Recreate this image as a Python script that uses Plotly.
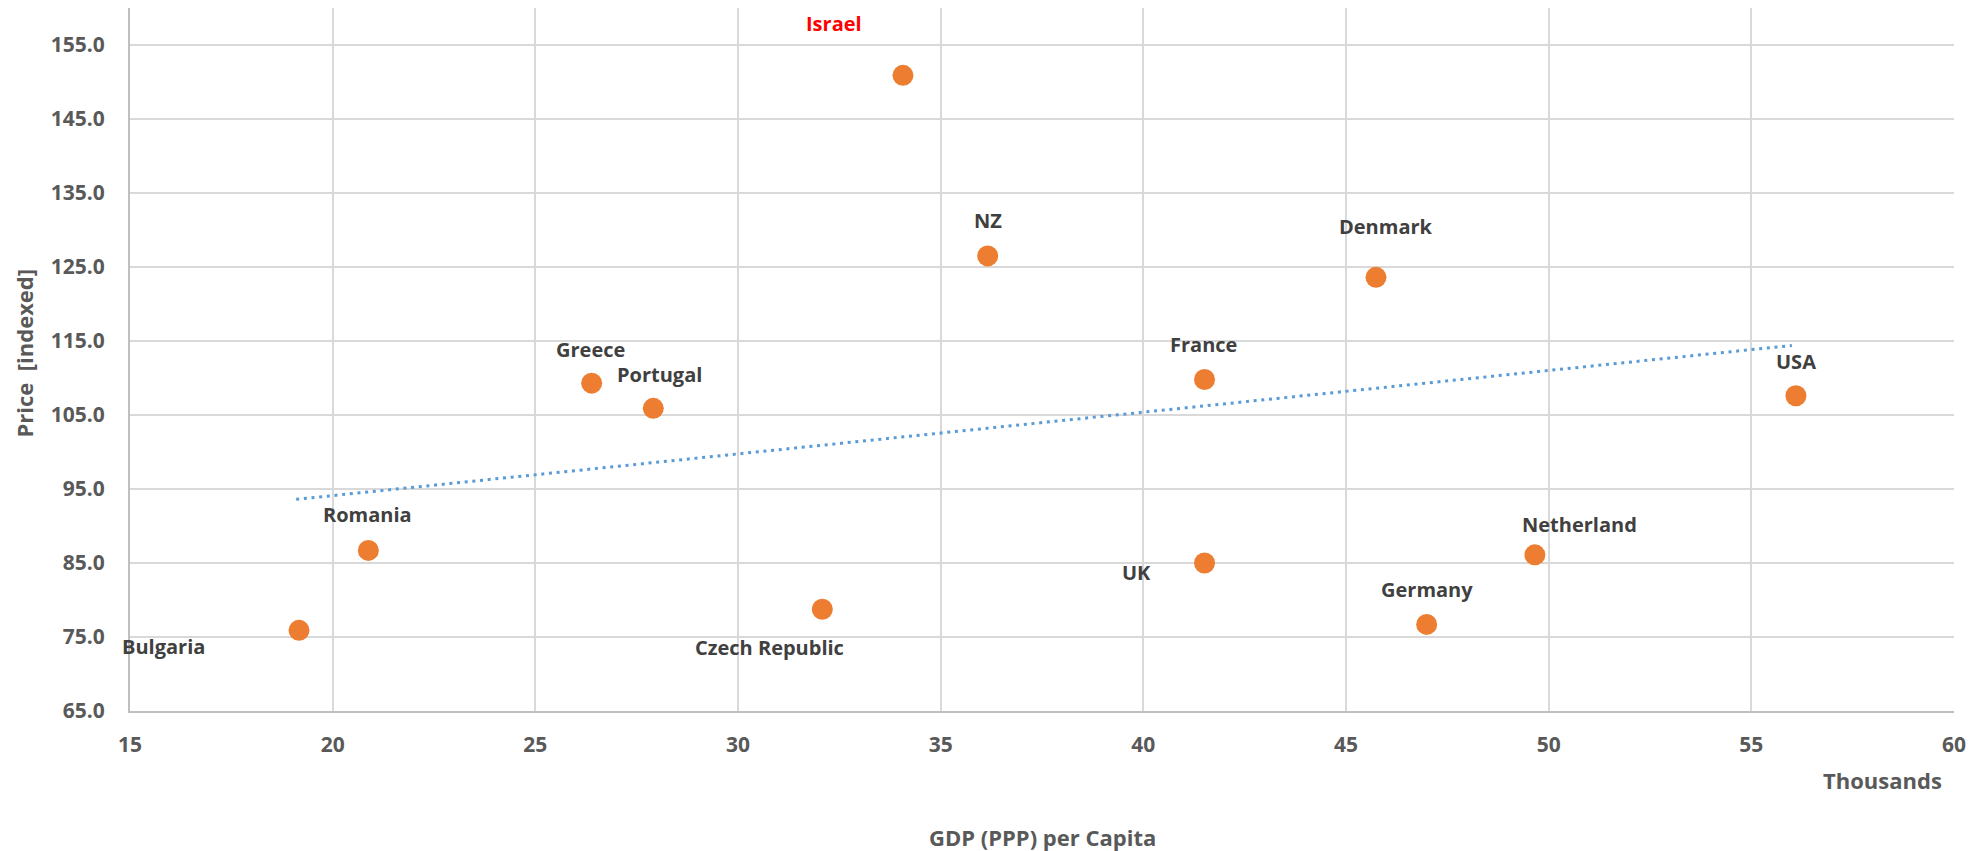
import plotly.graph_objects as go

# ---- data ----
countries = ["Israel", "NZ", "Denmark", "Greece", "Portugal", "France", "USA",
             "Romania", "Netherland", "UK", "Czech Republic", "Germany", "Bulgaria"]
gdp_thousands = [34.07, 36.16, 45.74, 26.39, 27.91, 41.51, 56.10,
                 20.88, 49.66, 41.51, 32.08, 46.99, 19.17]
price_index = [150.9, 126.5, 123.6, 109.3, 105.9, 109.8, 107.6,
               86.7, 86.1, 85.0, 78.75, 76.7, 75.9]
trend_x = [19.1, 56.0]
trend_y = [93.6, 114.4]
x_ticks = [15, 20, 25, 30, 35, 40, 45, 50, 55, 60]
y_ticks = [65, 75, 85, 95, 105, 115, 125, 135, 145, 155]

# label offsets in pixels (style)
label_offsets = {
    "Israel": (-69, 52), "NZ": (0, 35), "Denmark": (10, 51), "Greece": (-1, 34),
    "Portugal": (6, 34), "France": (-1, 35), "USA": (0, 34), "Romania": (-1, 36),
    "Netherland": (45, 30), "UK": (-68, -9), "Czech Republic": (-53, -38),
    "Germany": (0, 35), "Bulgaria": (-136, -16),
}

FONT = "Open Sans"
GRAY = "#595959"
LABEL = "#404040"

fig = go.Figure()

fig.add_trace(go.Scatter(
    x=trend_x, y=trend_y, mode="lines",
    line=dict(color="#5B9BD5", width=3, dash="3px,4.7px"),
    hoverinfo="skip", showlegend=False,
))

fig.add_trace(go.Scatter(
    x=gdp_thousands, y=price_index, mode="markers",
    marker=dict(color="#ED7D31", size=21, line=dict(width=0)),
    text=countries, showlegend=False,
))

for name, xv, yv in zip(countries, gdp_thousands, price_index):
    dx, dy = label_offsets[name]
    fig.add_annotation(
        x=xv, y=yv, xref="x", yref="y", text=name, showarrow=False,
        xshift=dx, yshift=dy,
        font=dict(family=FONT, size=20, weight="bold",
                  color="#FF0000" if name == "Israel" else LABEL),
    )

# axis titles
fig.add_annotation(
    xref="paper", yref="paper", x=0.5, y=0, xanchor="center", yanchor="middle",
    yshift=-126, text="GDP (PPP) per Capita", showarrow=False,
    font=dict(family=FONT, size=22, weight="bold", color=GRAY),
)
fig.add_annotation(
    xref="paper", yref="paper", x=1.0, y=0, xanchor="right", yanchor="middle",
    xshift=-10, yshift=-69, text="Thousands", showarrow=False,
    font=dict(family=FONT, size=22, weight="bold", color=GRAY),
)
fig.add_annotation(
    xref="paper", yref="paper", x=0, y=0.5, xanchor="center", yanchor="middle",
    xshift=-107, yshift=6, textangle=-90, text="Price  [indexed]", showarrow=False,
    font=dict(family=FONT, size=22, weight="bold", color=GRAY),
)

fig.update_xaxes(
    range=[15, 60], tickvals=x_ticks, showgrid=True, gridcolor="#D9D9D9", gridwidth=1.5,
    zeroline=False, showline=True, linecolor="#BFBFBF", linewidth=2,
    ticks="outside", ticklen=14, tickcolor="rgba(0,0,0,0)",
    tickfont=dict(family=FONT, size=21, weight="bold", color=GRAY),
)
fig.update_yaxes(
    range=[65, 160], tickvals=y_ticks, tickformat=".1f", showgrid=True,
    gridcolor="#D9D9D9", gridwidth=1.5,
    zeroline=False, showline=True, linecolor="#BFBFBF", linewidth=2,
    ticks="outside", ticklen=19, tickcolor="rgba(0,0,0,0)",
    tickfont=dict(family=FONT, size=21, weight="bold", color=GRAY),
)

# page body has an 8px margin, so the figure is sized/margined to compensate
fig.update_layout(
    width=1969, height=843,
    margin=dict(l=122, r=23, t=0, b=140, autoexpand=False),
    plot_bgcolor="white", paper_bgcolor="white",
    showlegend=False,
)

fig.write_html("out.html")
